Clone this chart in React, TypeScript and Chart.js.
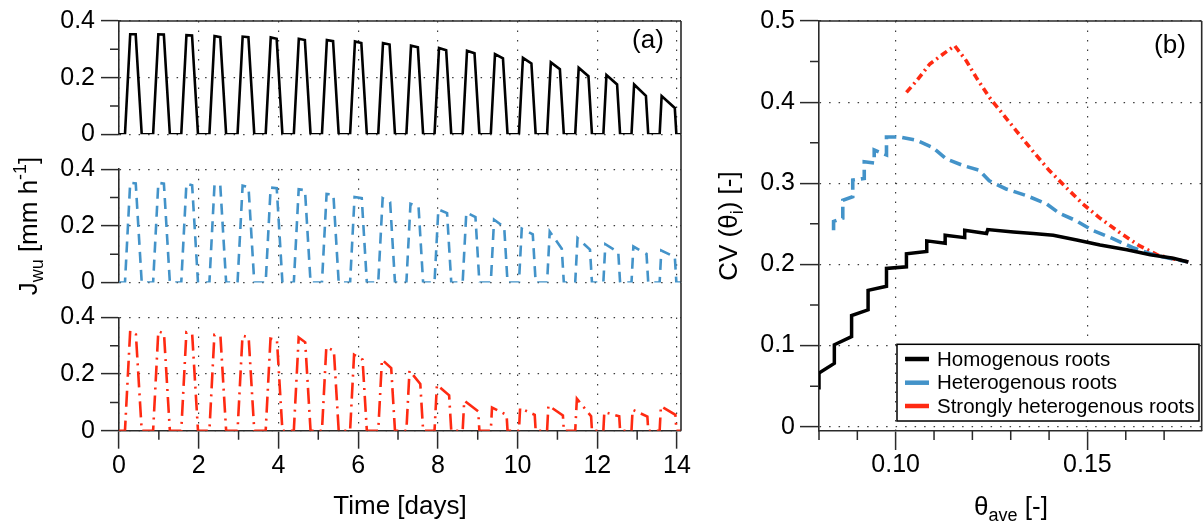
import React, { useEffect, useRef } from 'react';
import { Chart, registerables } from 'chart.js';

Chart.register(...registerables);

const FONT = '"Liberation Sans", Arial, Helvetica, sans-serif';
const W = 1203;
const H = 527;

// ---------------- Panel (a) data ----------------
const dayTickValues = [0, 2, 4, 6, 8, 10, 12, 14];
const dayMinorTicks = [1, 3, 5, 7, 9, 11, 13];
const uptakeMinorTicks = [0.1, 0.3];
// day at which uptake starts rising in each daily cycle
const cycleOnsetDays = [0.15, 0.856, 1.562, 2.268, 2.974, 3.68, 4.386, 5.092, 5.798, 6.504,
  7.21, 7.916, 8.622, 9.328, 10.034, 10.74, 11.446, 12.152, 12.858, 13.564];
const cycleDurationDays = 0.42; // onset -> back to zero
const fullRiseDays = 0.13; // time to rise to full demand
const fullFallDays = 0.15; // time to fall from full demand
const fullDemand = 0.35;

const homPeakStart = [0.353, 0.353, 0.350, 0.347, 0.345, 0.342, 0.337, 0.333, 0.328, 0.322,
  0.313, 0.305, 0.295, 0.283, 0.270, 0.254, 0.235, 0.209, 0.176, 0.135];
const homPeakEnd = [0.353, 0.352, 0.349, 0.343, 0.343, 0.337, 0.333, 0.329, 0.322, 0.317,
  0.307, 0.297, 0.286, 0.268, 0.250, 0.230, 0.205, 0.176, 0.136, 0.093];

const hetPeakStart = [0.352, 0.352, 0.349, 0.346, 0.342, 0.335, 0.329, 0.313, 0.302, 0.298,
  0.278, 0.258, 0.247, 0.222, 0.190, 0.180, 0.157, 0.135, 0.127, 0.113];
const hetPeakEnd = [0.350, 0.349, 0.343, 0.343, 0.337, 0.333, 0.326, 0.310, 0.298, 0.284,
  0.267, 0.245, 0.231, 0.196, 0.170, 0.119, 0.116, 0.107, 0.101, 0.090];

const strPeakStart = [0.353, 0.351, 0.347, 0.338, 0.335, 0.325, 0.329, 0.295, 0.268, 0.251,
  0.212, 0.162, 0.106, 0.082, 0.080, 0.089, 0.113, 0.066, 0.074, 0.086];
const strPeakEnd = [0.340, 0.343, 0.340, 0.333, 0.330, 0.320, 0.312, 0.282, 0.251, 0.221,
  0.165, 0.125, 0.068, 0.056, 0.056, 0.054, 0.051, 0.051, 0.050, 0.056];

// ---------------- Panel (b) data ----------------
const thetaMinorTicks = [0.08, 0.09, 0.11, 0.12, 0.13, 0.14, 0.16, 0.17];
const cvMinorTicks = [0.05, 0.15, 0.25, 0.35, 0.45];

const homTheta = [0.0800, 0.0800, 0.0840, 0.0840, 0.0885, 0.0885, 0.0928, 0.0928, 0.0976, 0.0976,
  0.1028, 0.1028, 0.1081, 0.1081, 0.1129, 0.1129, 0.1180, 0.1180, 0.1237, 0.1240,
  0.1307, 0.1359, 0.1411, 0.1472, 0.1533, 0.1603, 0.1664, 0.1724, 0.1763];
const homCV = [0.046, 0.066, 0.078, 0.101, 0.111, 0.137, 0.144, 0.168, 0.173, 0.195,
  0.197, 0.213, 0.216, 0.229, 0.226, 0.236, 0.233, 0.242, 0.238, 0.243,
  0.240, 0.238, 0.236, 0.230, 0.224, 0.218, 0.212, 0.2075, 0.203];

const hetTheta = [0.0838, 0.0838, 0.0862, 0.0862, 0.0888, 0.0888, 0.0918, 0.0918, 0.0944, 0.0944,
  0.0976, 0.0976, 0.1011, 0.1054, 0.1097, 0.1132, 0.1175, 0.1218, 0.1244, 0.1288,
  0.1340, 0.1392, 0.1427, 0.1470, 0.1513, 0.1565, 0.1617, 0.1678, 0.1763];
const hetCV = [0.242, 0.253, 0.257, 0.279, 0.2835, 0.304, 0.306, 0.3266, 0.325, 0.341,
  0.335, 0.357, 0.357, 0.353, 0.344, 0.330, 0.322, 0.316, 0.303, 0.293,
  0.285, 0.275, 0.263, 0.254, 0.242, 0.232, 0.221, 0.211, 0.203];

const strTheta = [0.1028, 0.1054, 0.1089, 0.1123, 0.1154, 0.1184, 0.1210, 0.1244, 0.1279, 0.1314,
  0.1357, 0.1400, 0.1444, 0.1487, 0.1530, 0.1582, 0.1634, 0.1686, 0.1763];
const strCV = [0.412, 0.426, 0.447, 0.459, 0.4695, 0.451, 0.4305, 0.406, 0.3855, 0.365,
  0.340, 0.316, 0.295, 0.275, 0.258, 0.240, 0.2235, 0.211, 0.203];

const seriesLabels = ['Homogenous roots', 'Heterogenous roots', 'Strongly heterogenous roots'];
const seriesColors = ['#000000', '#4393c9', '#ff2a12'];

// ---------------- helpers ----------------
function uptakeSeries(start: number[], end: number[]) {
  const pts: { x: number; y: number }[] = [{ x: 0, y: 0 }];
  cycleOnsetDays.forEach((t0, i) => {
    const off = t0 + cycleDurationDays;
    pts.push({ x: t0, y: 0 });
    pts.push({ x: t0 + (start[i] / fullDemand) * fullRiseDays, y: start[i] });
    pts.push({ x: off - (end[i] / fullDemand) * fullFallDays, y: end[i] });
    pts.push({ x: off, y: 0 });
  });
  pts.push({ x: 14.1, y: 0 });
  return pts;
}

function xy(xs: number[], ys: number[]) {
  return xs.map((x, i) => ({ x, y: ys[i] }));
}

type Seg = { t: string; size: number; dy?: number };

function drawRich(ctx: CanvasRenderingContext2D, segs: Seg[], x: number, y: number, rot = 0) {
  ctx.save();
  ctx.translate(x, y);
  if (rot) ctx.rotate(rot);
  let total = 0;
  for (const s of segs) {
    ctx.font = `${s.size}px ${FONT}`;
    total += ctx.measureText(s.t).width;
  }
  let cx = -total / 2;
  ctx.textBaseline = 'alphabetic';
  ctx.textAlign = 'left';
  ctx.fillStyle = '#000';
  for (const s of segs) {
    ctx.font = `${s.size}px ${FONT}`;
    ctx.fillText(s.t, cx, s.dy || 0);
    cx += ctx.measureText(s.t).width;
  }
  ctx.restore();
}

const AXIS = '#2a2a2a';
const GRID = '#3c3c3c';
const GRID_DASH = [1.5, 8];
const TICK_FONT = { family: FONT, size: 25 };

function minorTicksPlugin(id: string, xs: number[], ys: number[], len = 9) {
  return {
    id,
    afterDraw(chart: any) {
      const { ctx, chartArea: ca } = chart;
      ctx.save();
      ctx.strokeStyle = AXIS;
      ctx.lineWidth = 1.5;
      ctx.beginPath();
      for (const v of ys) {
        const p = chart.scales.y.getPixelForValue(v);
        ctx.moveTo(ca.left - len, p);
        ctx.lineTo(ca.left, p);
      }
      for (const v of xs) {
        const p = chart.scales.x.getPixelForValue(v);
        ctx.moveTo(p, ca.bottom);
        ctx.lineTo(p, ca.bottom + len);
      }
      ctx.stroke();
      ctx.restore();
    },
  };
}

function framePlugin(id: string, top: boolean, extendUp: number) {
  return {
    id,
    afterDraw(chart: any) {
      const { ctx, chartArea: ca } = chart;
      ctx.save();
      ctx.strokeStyle = AXIS;
      ctx.lineWidth = 1.6;
      ctx.beginPath();
      if (top) {
        ctx.moveTo(ca.left, ca.top);
        ctx.lineTo(ca.right, ca.top);
      }
      ctx.moveTo(ca.right, ca.top - extendUp);
      ctx.lineTo(ca.right, ca.bottom);
      ctx.stroke();
      ctx.restore();
    },
  };
}

function textPlugin(id: string, items: { segs: Seg[]; x: number; y: number; rot?: number }[]) {
  return {
    id,
    afterDraw(chart: any) {
      for (const it of items) drawRich(chart.ctx, it.segs, it.x, it.y, it.rot || 0);
    },
  };
}

const legendPlugin = {
  id: 'boxLegend',
  afterDraw(chart: any) {
    const { ctx, chartArea: ca } = chart;
    const x0 = ca.left + 78;
    const y0 = ca.bottom - 86.7;
    const w = 302;
    const h = 76.7;
    ctx.save();
    ctx.fillStyle = '#fff';
    ctx.fillRect(x0, y0, w, h);
    ctx.strokeStyle = '#000';
    ctx.lineWidth = 1.5;
    ctx.strokeRect(x0, y0, w, h);
    const rows = [14.7, 38.4, 61.7];
    chart.data.datasets.forEach((ds: any, i: number) => {
      const cy = y0 + rows[i];
      ctx.strokeStyle = ds.borderColor;
      ctx.lineWidth = 4.5;
      ctx.setLineDash([]);
      ctx.beginPath();
      ctx.moveTo(x0 + 8, cy);
      ctx.lineTo(x0 + 32, cy);
      ctx.stroke();
      ctx.fillStyle = '#000';
      ctx.font = `20.5px ${FONT}`;
      ctx.textBaseline = 'middle';
      ctx.textAlign = 'left';
      ctx.fillText(ds.label, x0 + 40, cy + 1);
    });
    ctx.restore();
  },
};

// ---------------- layout ----------------
const A_LEFT = 119;
const A_RIGHT = 681;
const SUB_H = 113.3;
const SUB_TOPS = [21, 169.2, 317.4];
const GAP = 34.9;
const Y_AXIS_W = 80;
const X_AXIS_H = 60;

const B_LEFT = 819;
const B_RIGHT = 1201.7;
const B_TOP = 21;
const B_BOTTOM = 431;

const baseOptions = {
  animation: false as const,
  responsive: false,
  maintainAspectRatio: false,
  devicePixelRatio: 1,
  events: [] as any[],
};

function subplotConfig(index: number, data: any[], color: string, dash: number[], extra: any[]) {
  const top = SUB_TOPS[index];
  const bottom = top + SUB_H;
  const showX = index === 2;
  return {
    type: 'line' as const,
    data: {
      datasets: [
        {
          label: seriesLabels[index],
          data,
          borderColor: color,
          borderWidth: 2.6,
          borderDash: dash,
          pointRadius: 0,
          tension: 0,
          fill: false,
          borderJoinStyle: 'miter' as const,
        },
      ],
    },
    options: {
      ...baseOptions,
      layout: {
        autoPadding: false,
        padding: {
          left: A_LEFT - Y_AXIS_W,
          right: W - A_RIGHT,
          top,
          bottom: H - bottom - (showX ? X_AXIS_H : 0),
        },
      },
      plugins: { legend: { display: false }, tooltip: { enabled: false } },
      scales: {
        x: {
          type: 'linear' as const,
          min: dayTickValues[0],
          max: 14.1,
          afterFit: (s: any) => {
            s.height = showX ? X_AXIS_H : 0;
          },
          ticks: {
            display: showX,
            stepSize: 2,
            includeBounds: false,
            autoSkip: false,
            maxRotation: 0,
            padding: 2,
            color: '#000',
            font: TICK_FONT,
            callback: (v: any) => String(v),
          },
          grid: {
            color: GRID,
            lineWidth: 1.2,
            drawTicks: showX,
            tickLength: 18,
            tickColor: AXIS,
            tickWidth: 1.5,
            tickBorderDash: [],
          },
          border: { display: showX, color: AXIS, width: 1.6, dash: GRID_DASH },
        },
        y: {
          type: 'linear' as const,
          min: 0,
          max: 0.4,
          afterFit: (s: any) => {
            s.width = Y_AXIS_W;
          },
          ticks: {
            stepSize: 0.2,
            padding: 6,
            color: '#000',
            font: TICK_FONT,
            callback: (v: any) => (v === 0 ? '0' : Number(v).toFixed(1)),
          },
          grid: {
            color: GRID,
            lineWidth: 1.2,
            drawTicks: true,
            tickLength: 18,
            tickColor: AXIS,
            tickWidth: 1.5,
            tickBorderDash: [],
          },
          border: { display: true, color: AXIS, width: 1.6, dash: GRID_DASH },
        },
      },
    },
    plugins: [
      minorTicksPlugin('minor' + index, showX ? dayMinorTicks : [], uptakeMinorTicks),
      framePlugin('frame' + index, index === 0, index === 0 ? 0 : GAP),
      ...extra,
    ],
  };
}

function panelBConfig() {
  return {
    type: 'line' as const,
    data: {
      datasets: [
        {
          label: seriesLabels[0],
          data: xy(homTheta, homCV),
          borderColor: seriesColors[0],
          borderWidth: 3.5,
          pointRadius: 0,
          tension: 0,
          fill: false,
          borderJoinStyle: 'miter' as const,
        },
        {
          label: seriesLabels[1],
          data: xy(hetTheta, hetCV),
          borderColor: seriesColors[1],
          borderWidth: 3.6,
          borderDash: [12, 6],
          pointRadius: 0,
          tension: 0,
          fill: false,
        },
        {
          label: seriesLabels[2],
          data: xy(strTheta, strCV),
          borderColor: seriesColors[2],
          borderWidth: 3.6,
          borderDash: [7, 4, 2, 4],
          pointRadius: 0,
          tension: 0,
          fill: false,
        },
      ],
    },
    options: {
      ...baseOptions,
      layout: {
        autoPadding: false,
        padding: {
          left: B_LEFT - Y_AXIS_W,
          right: W - B_RIGHT,
          top: B_TOP,
          bottom: H - B_BOTTOM - X_AXIS_H,
        },
      },
      plugins: { legend: { display: false }, tooltip: { enabled: false } },
      scales: {
        x: {
          type: 'linear' as const,
          min: 0.08,
          max: 0.1798,
          afterFit: (s: any) => {
            s.height = X_AXIS_H;
          },
          ticks: {
            stepSize: 0.05,
            includeBounds: false,
            autoSkip: false,
            maxRotation: 0,
            padding: 0,
            color: '#000',
            font: TICK_FONT,
            callback: (v: any) => Number(v).toFixed(2),
          },
          grid: {
            color: GRID,
            lineWidth: 1.2,
            drawTicks: true,
            tickLength: 19,
            tickColor: AXIS,
            tickWidth: 1.5,
            tickBorderDash: [],
          },
          border: { display: true, color: AXIS, width: 1.6, dash: GRID_DASH },
        },
        y: {
          type: 'linear' as const,
          min: -0.0053,
          max: 0.5,
          afterFit: (s: any) => {
            s.width = Y_AXIS_W;
          },
          ticks: {
            stepSize: 0.1,
            includeBounds: false,
            padding: 5,
            color: '#000',
            font: TICK_FONT,
            callback: (v: any) => (v === 0 ? '0' : Number(v).toFixed(1)),
          },
          grid: {
            color: GRID,
            lineWidth: 1.2,
            drawTicks: true,
            tickLength: 19,
            tickColor: AXIS,
            tickWidth: 1.5,
            tickBorderDash: [],
          },
          border: { display: true, color: AXIS, width: 1.6, dash: GRID_DASH },
        },
      },
    },
    plugins: [
      minorTicksPlugin('minorB', thetaMinorTicks, cvMinorTicks),
      framePlugin('frameB', true, 0),
      legendPlugin,
      textPlugin('textB', [
        { segs: [{ t: '(b)', size: 26 }], x: 1170, y: 52.5 },
        {
          segs: [
            { t: 'θ', size: 26 },
            { t: 'ave', size: 18, dy: 6 },
            { t: ' [-]', size: 26 },
          ],
          x: 1011,
          y: 515,
        },
        {
          segs: [
            { t: 'CV (θ', size: 26 },
            { t: 'i', size: 18, dy: 6 },
            { t: ') [-]', size: 26 },
          ],
          x: 737,
          y: 226,
          rot: -Math.PI / 2,
        },
      ]),
    ],
  };
}

export default function App() {
  const r0 = useRef<HTMLCanvasElement>(null);
  const r1 = useRef<HTMLCanvasElement>(null);
  const r2 = useRef<HTMLCanvasElement>(null);
  const r3 = useRef<HTMLCanvasElement>(null);

  useEffect(() => {
    Chart.defaults.font.family = FONT;
    const charts: Chart[] = [];
    const aText = textPlugin('textA', [
      { segs: [{ t: '(a)', size: 26 }], x: 648, y: 47.5 },
      { segs: [{ t: 'Time [days]', size: 26 }], x: 400, y: 514 },
      {
        segs: [
          { t: 'J', size: 26 },
          { t: 'wu', size: 18, dy: 6 },
          { t: ' [mm h', size: 26 },
          { t: '-1', size: 18, dy: -11 },
          { t: ']', size: 26 },
        ],
        x: 37,
        y: 226,
        rot: -Math.PI / 2,
      },
    ]);
    const configs: any[] = [
      subplotConfig(0, uptakeSeries(homPeakStart, homPeakEnd), seriesColors[0], [], []),
      subplotConfig(1, uptakeSeries(hetPeakStart, hetPeakEnd), seriesColors[1], [11, 7], []),
      subplotConfig(2, uptakeSeries(strPeakStart, strPeakEnd), seriesColors[2], [16, 6, 2, 6], [aText]),
      panelBConfig(),
    ];
    [r0, r1, r2, r3].forEach((r, i) => {
      if (r.current) charts.push(new Chart(r.current, configs[i]));
    });
    return () => charts.forEach((c) => c.destroy());
  }, []);

  const cs: React.CSSProperties = { position: 'absolute', left: 0, top: 0, width: W, height: H };
  return (
    <div style={{ position: 'absolute', left: 0, top: 0, width: W, height: H, background: '#fff', overflow: 'hidden' }}>
      <canvas ref={r0} width={W} height={H} style={cs} />
      <canvas ref={r1} width={W} height={H} style={cs} />
      <canvas ref={r2} width={W} height={H} style={cs} />
      <canvas ref={r3} width={W} height={H} style={cs} />
    </div>
  );
}
